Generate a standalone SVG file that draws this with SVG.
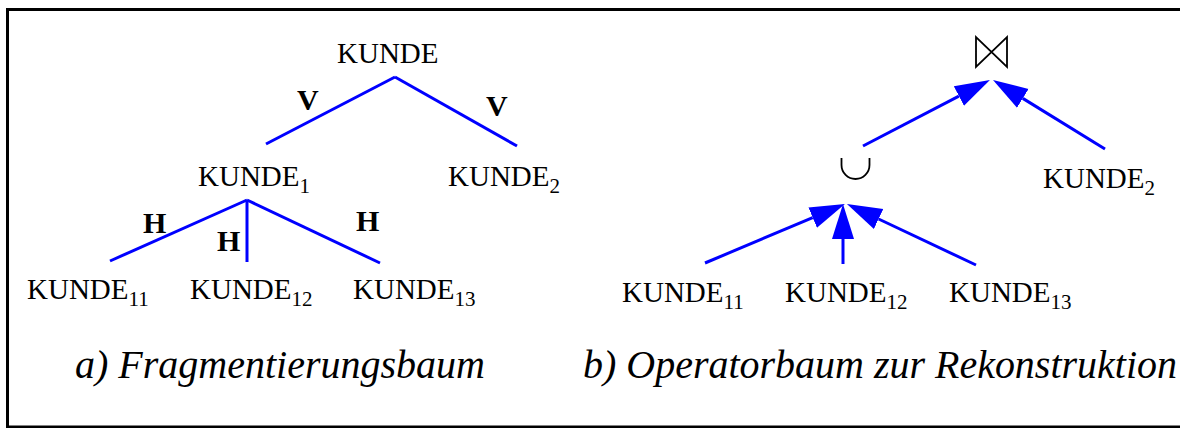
<svg xmlns="http://www.w3.org/2000/svg" width="1180" height="428" viewBox="0 0 1180 428">
<style>
.t{font-family:"Liberation Serif","Times New Roman",serif;font-size:29px;fill:#000}
.s{font-size:21px}
.b{font-family:"Liberation Serif","Times New Roman",serif;font-size:30px;font-weight:bold;fill:#000}
.c{font-family:"Liberation Serif","Times New Roman",serif;font-size:40px;font-style:italic;fill:#000}
.e{stroke:#0000ff;stroke-width:3;fill:none}
.op{stroke:#000;stroke-width:1.8;fill:none}
</style>
<defs>
<marker id="ah" markerUnits="userSpaceOnUse" markerWidth="40" markerHeight="26" refX="0" refY="11" orient="auto" viewBox="0 0 40 22">
<path d="M0,0 L35,11 L0,22 z" fill="#0000ff"/>
</marker>
</defs>
<rect x="7.5" y="9.5" width="1200" height="417.5" fill="#fff" stroke="#000" stroke-width="3"/>
<g id="connectors">
<line class="e" x1="395" y1="77" x2="266" y2="144"/>
<line class="e" x1="395" y1="77" x2="517" y2="146"/>
<line class="e" x1="247" y1="200" x2="110" y2="261"/>
<line class="e" x1="247" y1="200" x2="247" y2="262"/>
<line class="e" x1="247" y1="200" x2="380" y2="263"/>
<line class="e" x1="705" y1="263" x2="812.7" y2="217.6" marker-end="url(#ah)"/>
<line class="e" x1="843" y1="264" x2="843" y2="239" marker-end="url(#ah)"/>
<line class="e" x1="976" y1="265" x2="878.6" y2="219" marker-end="url(#ah)"/>
<line class="e" x1="863" y1="146" x2="958.9" y2="96.1" marker-end="url(#ah)"/>
<line class="e" x1="1105" y1="149" x2="1022.8" y2="98.4" marker-end="url(#ah)"/>
</g>
<g id="edge-labels">
<text class="b" x="297" y="110">V</text>
<text class="b" x="486" y="116">V</text>
<text class="b" x="143" y="233">H</text>
<text class="b" x="217" y="251">H</text>
<text class="b" x="356" y="231">H</text>
</g>
<g id="l-kunde"><text class="t" x="337" y="63">KUNDE</text></g>
<g id="l-kunde1"><text class="t" x="198" y="186">KUNDE<tspan class="s" dy="7">1</tspan></text></g>
<g id="l-kunde2"><text class="t" x="448" y="186">KUNDE<tspan class="s" dy="7">2</tspan></text></g>
<g id="l-kunde11"><text class="t" x="27" y="299">KUNDE<tspan class="s" dy="7">11</tspan></text></g>
<g id="l-kunde12"><text class="t" x="190" y="299">KUNDE<tspan class="s" dy="7">12</tspan></text></g>
<g id="l-kunde13"><text class="t" x="353" y="299">KUNDE<tspan class="s" dy="7">13</tspan></text></g>
<g id="r-join"><path class="op" d="M976,37 V67 L1007,37 V67 Z"/></g>
<g id="r-union"><path class="op" d="M841.5,158 V165 A14,14 0 0 0 869.5,165 V158"/></g>
<g id="r-kunde2"><text class="t" x="1043" y="188">KUNDE<tspan class="s" dy="7">2</tspan></text></g>
<g id="r-kunde11"><text class="t" x="622" y="302">KUNDE<tspan class="s" dy="7">11</tspan></text></g>
<g id="r-kunde12"><text class="t" x="785" y="302">KUNDE<tspan class="s" dy="7">12</tspan></text></g>
<g id="r-kunde13"><text class="t" x="949" y="302">KUNDE<tspan class="s" dy="7">13</tspan></text></g>
<g id="captions">
<text class="c" x="75" y="378" textLength="410" lengthAdjust="spacingAndGlyphs">a) Fragmentierungsbaum</text>
<text class="c" x="583" y="378" textLength="594" lengthAdjust="spacingAndGlyphs">b) Operatorbaum zur Rekonstruktion</text>
</g>
</svg>
